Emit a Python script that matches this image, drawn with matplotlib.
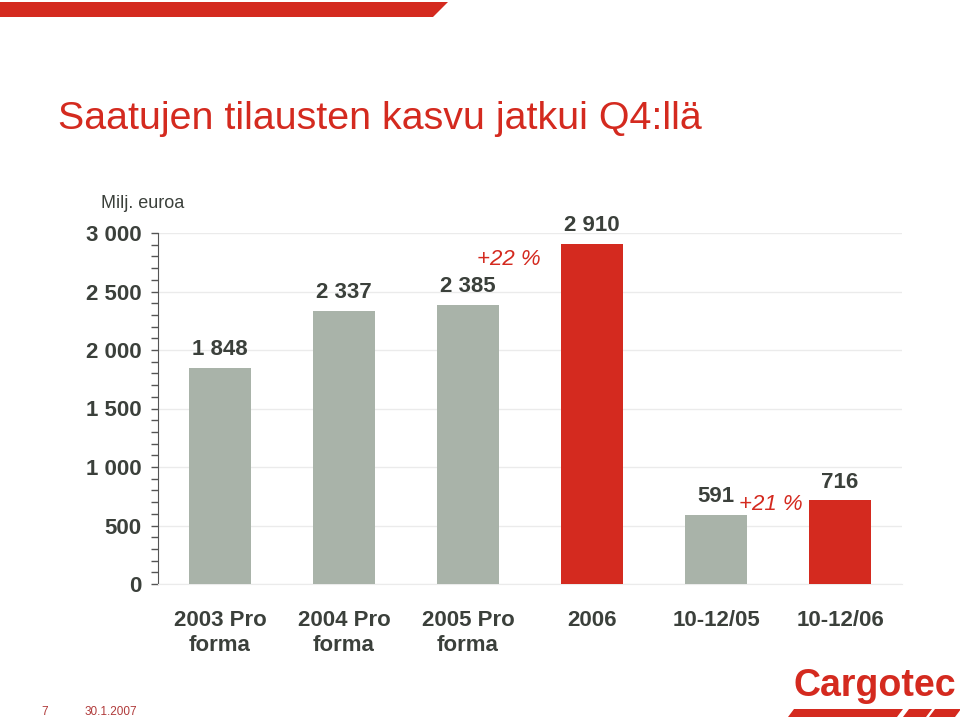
import numpy as np
import matplotlib
matplotlib.use("Agg")
from matplotlib import pyplot as plt
from matplotlib.patches import Polygon

categories = ["2003 Pro\nforma", "2004 Pro\nforma", "2005 Pro\nforma", "2006", "10-12/05", "10-12/06"]
values = [1848, 2337, 2385, 2910, 591, 716]
value_labels = ["1 848", "2 337", "2 385", "2 910", "591", "716"]
highlight = [False, False, False, True, False, True]
yticks = [0, 500, 1000, 1500, 2000, 2500, 3000]
ytick_labels = ["0", "500", "1 000", "1 500", "2 000", "2 500", "3 000"]
growth = [("+22 %", 2.33, 2770), ("+21 %", 4.44, 680)]

red = "#d42a1f"
grey = "#a9b3a9"
dark = "#3b403b"

plt.rcParams['font.family'] = ['Liberation Sans', 'DejaVu Sans']

fig = plt.figure(figsize=(9.6, 7.23), dpi=100)
W, H = 960, 723

# red banner at the top
fig.patches.append(Polygon([(0 / W, 1 - 2 / H), (448 / W, 1 - 2 / H), (433 / W, 1 - 17 / H), (0 / W, 1 - 17 / H)],
                           closed=True, transform=fig.transFigure, color=red, lw=0))

fig.text(58 / W, 1 - 119 / H, "Saatujen tilausten kasvu jatkui Q4:llä", color=red, fontsize=28.4, va='center', ha='left')

ax = fig.add_axes([158 / W, 1 - 584 / H, 744 / W, 351 / H])
x = np.arange(len(values))
colors = [red if h else grey for h in highlight]
ax.bar(x, values, width=0.5, color=colors, zorder=3)
ax.set_xlim(-0.5, len(values) - 0.5)
ax.set_ylim(0, 3000)

ax.set_yticks(yticks)
ax.set_yticklabels(ytick_labels, fontsize=16, fontweight='bold', color=dark)
ax.set_yticks(np.arange(0, 3001, 100), minor=True)
ax.tick_params(axis='y', which='both', direction='out', length=5, width=1, color='#555555', pad=7)
ax.set_xticks(x)
ax.set_xticklabels(categories, fontsize=16, fontweight='bold', color=dark)
ax.tick_params(axis='x', length=0, pad=19)

ax.grid(axis='y', which='major', color='#ebebeb', lw=1, zorder=0)
for s in ['top', 'right']:
    ax.spines[s].set_visible(False)
ax.spines['bottom'].set_color('#ebebeb')
ax.spines['left'].set_color('#555555')

for xi, v, lab in zip(x, values, value_labels):
    ax.annotate(lab, (xi, v), xytext=(0, 13), textcoords='offset points', ha='center', va='center',
                fontsize=16, fontweight='bold', color=dark)

for lab, gx, gy in growth:
    ax.text(gx, gy, lab, color=red, fontsize=16, fontstyle='italic', ha='center', va='center')

fig.text(101 / W, 1 - 204 / H, "Milj. euroa", fontsize=13, color=dark, ha='left', va='center')

# footer
fig.text(45 / W, 1 - 712 / H, "7", fontsize=8.5, color='#b03a3a', ha='center', va='center')
fig.text(85 / W, 1 - 712 / H, "30.1.2007", fontsize=8.5, color='#b03a3a', ha='left', va='center')

# logo
fig.text(875 / W, 1 - 686 / H, "Cargotec", fontsize=27, fontweight='bold', color=red, ha='center', va='center')
for x0, x1 in [(788, 897), (903, 926), (929, 955)]:
    sl = 6
    fig.patches.append(Polygon([((x0 + sl) / W, 1 - 709 / H), ((x1 + sl) / W, 1 - 709 / H),
                                (x1 / W, 1 - 717 / H), (x0 / W, 1 - 717 / H)],
                               closed=True, transform=fig.transFigure, color=red, lw=0))

fig.savefig("out.png", dpi=100)
